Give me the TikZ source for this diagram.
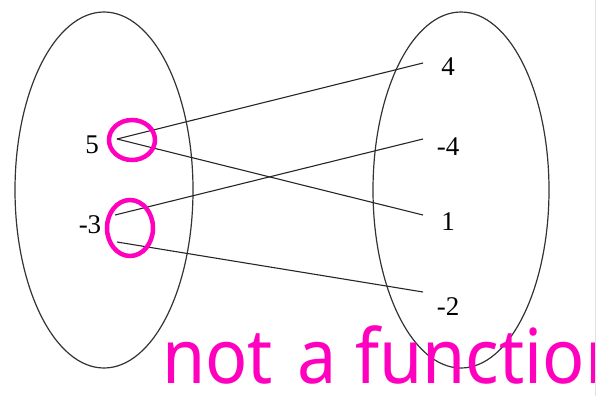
\documentclass[tikz,border=0pt]{standalone}
\usepackage{fontspec}
\setmainfont{Liberation Serif}
\newfontfamily\handfont{Noto Sans}
\definecolor{hot}{RGB}{255,0,190}
\begin{document}
\begin{tikzpicture}[x=1pt,y=-1pt,
  setel/.style={draw=black!80,line width=1.2pt},
  num/.style={font=\fontsize{27}{27}\selectfont,inner sep=0pt},
  link/.style={draw=black!85,line width=1.1pt},
  ringmark/.style={draw=hot,line width=4.5pt},
  hand/.style={font=\handfont\fontsize{70}{70}\selectfont,text=hot,inner sep=0pt,anchor=base west,yscale=1.08}]
\useasboundingbox (0,0) rectangle (615,396);
\draw[setel] (104,190) ellipse[x radius=89,y radius=178];
\draw[setel] (461,190) ellipse[x radius=88,y radius=178];
\node[num] (a) at (92,145) {5};
\node[num] (b) at (90,225) {-3};
\node[num] (p) at (448,67) {4};
\node[num] (q) at (448,147) {-4};
\node[num] (r) at (448,222) {1};
\node[num] (s) at (448,307) {-2};
\coordinate (a1) at (117,139);
\coordinate (b1) at (115,215);
\coordinate (b2) at (117,242);
\coordinate (p1) at (423,63);
\coordinate (q1) at (423,139);
\coordinate (r1) at (423,215);
\coordinate (s1) at (423,292);
\draw[link] (a1) -- (p1);
\draw[link] (a1) -- (r1);
\draw[link] (b1) -- (q1);
\draw[link] (b2) -- (s1);
\draw[ringmark] (132,140) ellipse[x radius=23,y radius=20];
\draw[ringmark] (130,228) ellipse[x radius=23,y radius=28];
\begin{scope}
\clip (0,0) rectangle (595,396);
\node[hand] (t1) at (162,383) {not};
\node[hand] (t2) at (297,383) {a};
\node[hand] (t3) at (355,383) {function};
\end{scope}
\draw[black!12,line width=0.8pt] (595.5,0) -- (595.5,396);
\end{tikzpicture}
\end{document}
